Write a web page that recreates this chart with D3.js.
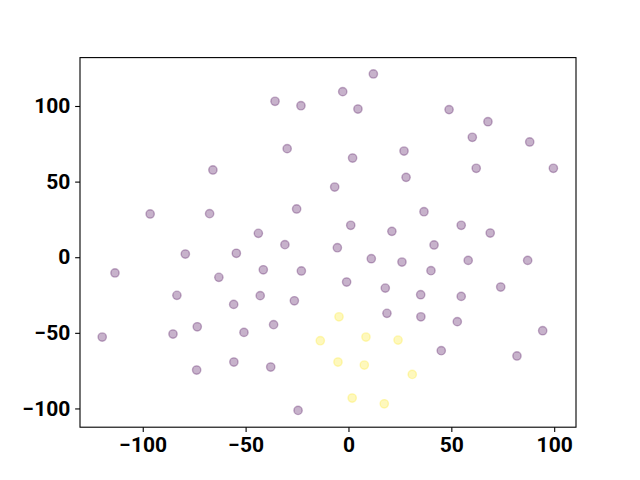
<!DOCTYPE html>
<html>
<head>
<meta charset="utf-8">
<script src="https://cdn.jsdelivr.net/npm/d3@7"></script>
<style>
  html, body { margin: 0; padding: 0; background: #fff; }
  svg { display: block; }
  .tick text { font-family: Roboto, sans-serif; font-weight: bold; font-size: 21px; fill: #000; }
</style>
</head>
<body>
<script>
// Class 0 (purple) points
const xClass0 = [-35.7, -23.1, -29.8, -65.9, -96.4, -67.5, -25.2, -43.8,
  12.1, -2.8, 4.6, 48.9, 67.8, 60.2, 88.1, 27.0, 2.0, 62.1, 99.6, 28.0, -6.7, 36.7, 1.1, 21.1, 54.8, 68.9,
  -30.9, -79.3, -54.5, -113.5, -41.4, -22.9, -63.0, -83.4, -42.9, -26.3, -55.8, -73.5, -85.3, -50.8, -36.4, -119.7, -55.7, -73.8, -37.8, -24.5,
  -5.4, 41.6, 11.1, 26.0, 58.2, 87.1, 40.1, -0.9, 17.9, 35.1, 54.8, 74.0, 18.7, 35.2, 52.9, 94.4, 45.1, 81.9];
const yClass0 = [103.1, 100.2, 71.8, 57.7, 28.6, 28.8, 31.9, 15.8,
  121.2, 109.5, 98.0, 97.6, 89.6, 79.3, 76.2, 70.2, 65.6, 58.8, 58.8, 52.8, 46.4, 30.1, 21.1, 17.1, 21.1, 16.0,
  8.3, 2.1, 2.6, -10.4, -8.3, -9.1, -13.3, -25.2, -25.4, -28.8, -31.2, -46.0, -50.8, -49.7, -44.6, -52.8, -69.3, -74.6, -72.6, -101.3,
  6.3, 8.1, -1.0, -3.2, -2.1, -2.1, -8.9, -16.4, -20.4, -24.8, -25.9, -19.7, -37.1, -39.4, -42.6, -48.6, -61.8, -65.3];
// Class 1 (yellow) points
const xClass1 = [-13.7, -4.6, 8.5, 24.1, -5.1, 7.7, 31.0, 1.8, 17.4];
const yClass1 = [-55.2, -39.4, -52.8, -54.8, -69.3, -71.3, -77.5, -93.1, -96.9];

const xTicks = [-100, -50, 0, 50, 100];
const yTicks = [-100, -50, 0, 50, 100];

const W = 640, H = 480;
const m = { left: 80, right: 64, top: 57.6, bottom: 52.8 };

const svg = d3.select("body").append("svg").attr("width", W).attr("height", H);

const x = d3.scaleLinear().domain([-130.5, 110.6]).range([m.left, W - m.right]);
const y = d3.scaleLinear().domain([-112.4, 132.0]).range([H - m.bottom, m.top]);

const pts = [];
xClass0.forEach((v, i) => pts.push({ x: v, y: yClass0[i], c: 0 }));
xClass1.forEach((v, i) => pts.push({ x: v, y: yClass1[i], c: 1 }));
const colors = ["#440154", "#fde725"];

svg.append("g").selectAll("circle").data(pts).join("circle")
  .attr("cx", d => x(d.x)).attr("cy", d => y(d.y)).attr("r", 4.17)
  .attr("fill", d => colors[d.c]).attr("fill-opacity", 0.3)
  .attr("stroke", d => colors[d.c]).attr("stroke-opacity", 0.3).attr("stroke-width", 1.4);

const fmt = d => d < 0 ? "\u2212" + Math.abs(d) : d;
const xAxis = svg.append("g").attr("transform", `translate(0,${H - m.bottom})`)
  .call(d3.axisBottom(x).tickValues(xTicks).tickFormat(fmt).tickSize(4.86).tickPadding(4.86));
const yAxis = svg.append("g").attr("transform", `translate(${m.left},0)`)
  .call(d3.axisLeft(y).tickValues(yTicks).tickFormat(fmt).tickSize(4.86).tickPadding(4.86));
[xAxis, yAxis].forEach(g => {
  g.select(".domain").remove();
  g.selectAll(".tick line").attr("stroke", "#000").attr("stroke-width", 1.1);
});

svg.append("rect").attr("x", m.left).attr("y", m.top)
  .attr("width", W - m.left - m.right).attr("height", H - m.top - m.bottom)
  .attr("fill", "none").attr("stroke", "#000").attr("stroke-width", 1.1);
</script>
</body>
</html>
